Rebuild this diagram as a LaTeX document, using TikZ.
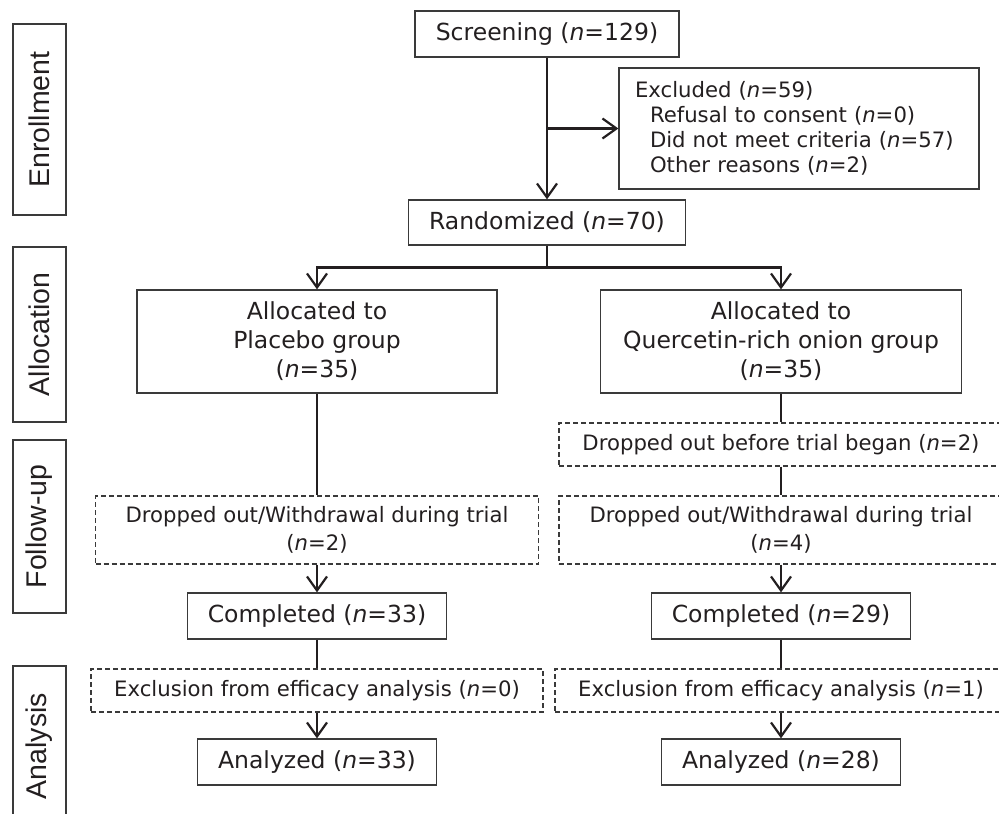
\documentclass[tikz,border=0pt]{standalone}
\usepackage{fontspec}
\setmainfont{DejaVu Sans}
\newfontfamily\labfont{Liberation Sans}
\usetikzlibrary{arrows.meta}
\definecolor{ink}{HTML}{231F20}
\definecolor{edge}{HTML}{3A3A3A}
\tikzset{
  box/.style={draw=edge, line width=1.3pt, inner sep=0pt, align=center, text=ink,
    font=\fontsize{23.5pt}{29pt}\selectfont},
  dbox/.style={box, dash pattern=on 5pt off 3pt,
    font=\fontsize{21.2pt}{28pt}\selectfont},
  lab/.style={draw=edge, line width=1.3pt, rotate=90, inner sep=0pt, text=ink,
    font=\labfont\fontsize{28.5pt}{30pt}\selectfont, minimum height=53pt},
  conn/.style={draw=ink, line width=2.4pt},
  arr/.style={conn, -{Straight Barb[length=14pt,width=20pt,line width=2.2pt]}},
}
\newcommand{\nn}{\textit{n}}
\begin{document}
\begin{tikzpicture}[x=1pt,y=-1pt]
\useasboundingbox (0,0) rectangle (999,814);
\clip (0,0) rectangle (999,814);

% stage labels
\node[lab, minimum width=191pt] (lenr) at (39.5,119.5) {Enrollment};
\node[lab, minimum width=175pt] (lall) at (39.5,334.5) {Allocation};
\node[lab, minimum width=173pt] (lfol) at (39.5,526.5) {Follow-up};
\node[lab, minimum width=160pt] (lana) at (39.5,746) {Analysis};

% top
\node[box, minimum width=264pt, minimum height=46pt] (scr) at (547,34) {Screening (\nn=129)};
\node[box, align=left, text width=328pt, inner xsep=16pt, minimum height=121pt,
  font=\fontsize{21.2pt}{25pt}\selectfont] (exc) at (799,128.5)
  {Excluded (\nn=59)\\
   \hspace*{15pt}Refusal to consent (\nn=0)\\
   \hspace*{15pt}Did not meet criteria (\nn=57)\\
   \hspace*{15pt}Other reasons (\nn=2)};
\node[box, minimum width=277pt, minimum height=45pt] (rnd) at (547,222.5) {Randomized (\nn=70)};

% allocation
\node[box, minimum width=360pt, minimum height=103pt] (pla) at (317,341.5)
  {Allocated to\\Placebo group\\(\nn=35)};
\node[box, minimum width=361pt, minimum height=103pt] (que) at (781,341.5)
  {Allocated to\\Quercetin-rich onion group\\(\nn=35)};

% placebo arm
\node[dbox, minimum width=443pt, minimum height=68pt] (dpl) at (317,530)
  {Dropped out/Withdrawal during trial\\(\nn=2)};
\node[box, minimum width=259pt, minimum height=46pt] (cpl) at (317,616) {Completed (\nn=33)};
\node[dbox, minimum width=452pt, minimum height=43pt] (epl) at (317,690.5)
  {Exclusion from efficacy analysis (\nn=0)};
\node[box, minimum width=239pt, minimum height=46pt] (apl) at (317,762) {Analyzed (\nn=33)};

% quercetin arm
\node[dbox, minimum width=444pt, minimum height=43pt] (dbq) at (781,444.5)
  {Dropped out before trial began (\nn=2)};
\node[dbox, minimum width=444pt, minimum height=68pt] (dqq) at (781,530)
  {Dropped out/Withdrawal during trial\\(\nn=4)};
\node[box, minimum width=259pt, minimum height=46pt] (cpq) at (781,616) {Completed (\nn=29)};
\node[dbox, minimum width=452pt, minimum height=43pt] (eqq) at (781,690.5)
  {Exclusion from efficacy analysis (\nn=1)};
\node[box, minimum width=239pt, minimum height=46pt] (aqq) at (781,762) {Analyzed (\nn=28)};

% connectors
\draw[arr] (scr.south) -- (rnd.north);
\draw[arr] (scr.south |- exc.west) -- (exc.west);
\draw[arr] (rnd.south) -- ++(0,22) -| (pla.north);
\draw[arr] (rnd.south) -- ++(0,22) -| (que.north);

\draw[conn] (pla.south) -- (dpl.north);
\draw[arr] (dpl.south) -- (cpl.north);
\draw[conn] (cpl.south) -- (epl.north);
\draw[arr] (epl.south) -- (apl.north);

\draw[conn] (que.south) -- (dbq.north);
\draw[conn] (dbq.south) -- (dqq.north);
\draw[arr] (dqq.south) -- (cpq.north);
\draw[conn] (cpq.south) -- (eqq.north);
\draw[arr] (eqq.south) -- (aqq.north);
\end{tikzpicture}
\end{document}
